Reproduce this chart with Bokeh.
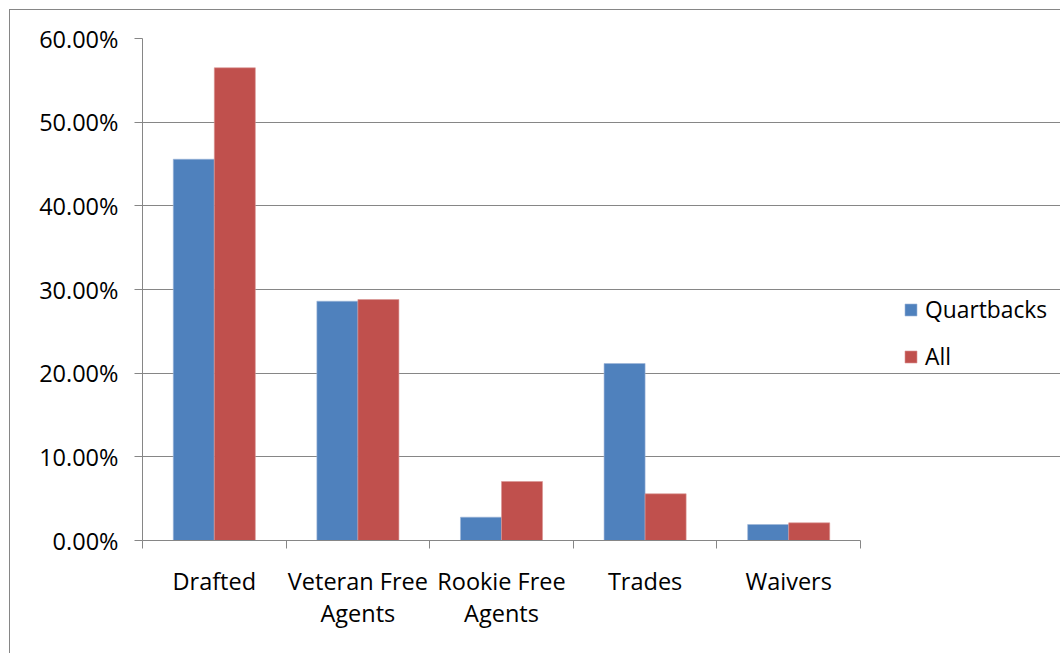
from bokeh.plotting import figure
from bokeh.models import Range1d, FixedTicker, NumeralTickFormatter, Legend, LegendItem
from bokeh.embed import file_html
from bokeh.resources import INLINE
import numpy as np

categories = ["Drafted", "Veteran Free\nAgents", "Rookie Free\nAgents", "Trades", "Waivers"]
quarterbacks = [0.4557, 0.2860, 0.0279, 0.2115, 0.0191]
all_players = [0.5650, 0.2880, 0.0705, 0.0558, 0.0211]
y_ticks = [0.0, 0.1, 0.2, 0.3, 0.4, 0.5, 0.6]
series_names = ["Quartbacks", "All"]
colors = ["#4F81BD", "#C0504D"]

FONT = "Open Sans"
GRAY = "#868686"
FS = "23.5px"

n = len(categories)
centers = np.arange(n) + 0.5
bw = 1 / 3.5

FIG_W, FIG_H = 1051, 644
LEFT, TOP, BOTTOM = 132, 28, 114
PLOT_W = 718                      # pixel width of the category area
frame_w = FIG_W - LEFT
x_end = n * frame_w / PLOT_W      # extra room on the right for the legend

p = figure(width=FIG_W, height=FIG_H, output_backend="svg", toolbar_location=None,
           x_range=Range1d(0, x_end), y_range=Range1d(0, 0.6),
           min_border_left=LEFT, min_border_right=0, min_border_top=TOP, min_border_bottom=BOTTOM)
p.styles = {"border-left": f"1px solid {GRAY}", "border-top": f"1px solid {GRAY}",
            "margin-left": "9px", "margin-top": "9px"}
p.outline_line_color = None
p.background_fill_color = "white"
p.border_fill_color = "white"

r1 = p.vbar(x=centers - bw / 2, top=quarterbacks, width=bw, fill_color=colors[0],
            line_color="#9DB5D9", line_width=0.6)
r2 = p.vbar(x=centers + bw / 2, top=all_players, width=bw, fill_color=colors[1],
            line_color="#DA9593", line_width=0.6)

# x axis
xa = p.xaxis[0]
xa.bounds = (0, n)
xa.ticker = FixedTicker(ticks=list(centers), minor_ticks=list(range(n + 1)))
xa.major_label_overrides = {float(c): lab for c, lab in zip(centers, categories)}
xa.major_tick_line_color = None
xa.minor_tick_line_color = GRAY
xa.minor_tick_in = 0
xa.minor_tick_out = 8
xa.axis_line_color = GRAY
xa.major_label_standoff = 16
xa.major_label_text_font = FONT
xa.major_label_text_font_size = FS
xa.major_label_text_color = "black"
xa.major_label_text_line_height = 1.0

# y axis
ya = p.yaxis[0]
ya.ticker = FixedTicker(ticks=y_ticks)
ya.formatter = NumeralTickFormatter(format="0.00%")
ya.axis_line_color = GRAY
ya.major_tick_line_color = GRAY
ya.major_tick_in = 0
ya.major_tick_out = 8
ya.minor_tick_line_color = None
ya.major_label_standoff = 16
ya.major_label_text_font = FONT
ya.major_label_text_font_size = FS
ya.major_label_text_color = "black"

p.xgrid.grid_line_color = None
p.ygrid.grid_line_color = GRAY
p.ygrid.ticker = FixedTicker(ticks=y_ticks)
p.ygrid.bounds = (0, n)

legend = Legend(items=[LegendItem(label=series_names[0], renderers=[r1]),
                       LegendItem(label=series_names[1], renderers=[r2])],
                location=(761, 168), orientation="vertical")
legend.border_line_color = None
legend.background_fill_alpha = 0
legend.padding = 0
legend.margin = 0
legend.glyph_width = 15
legend.glyph_height = 15
legend.label_text_font = FONT
legend.label_text_font_size = "22.8px"
legend.label_text_color = "black"
legend.label_standoff = 7
legend.spacing = 16
p.add_layout(legend)

open("out.html", "w").write(file_html(p, INLINE))
